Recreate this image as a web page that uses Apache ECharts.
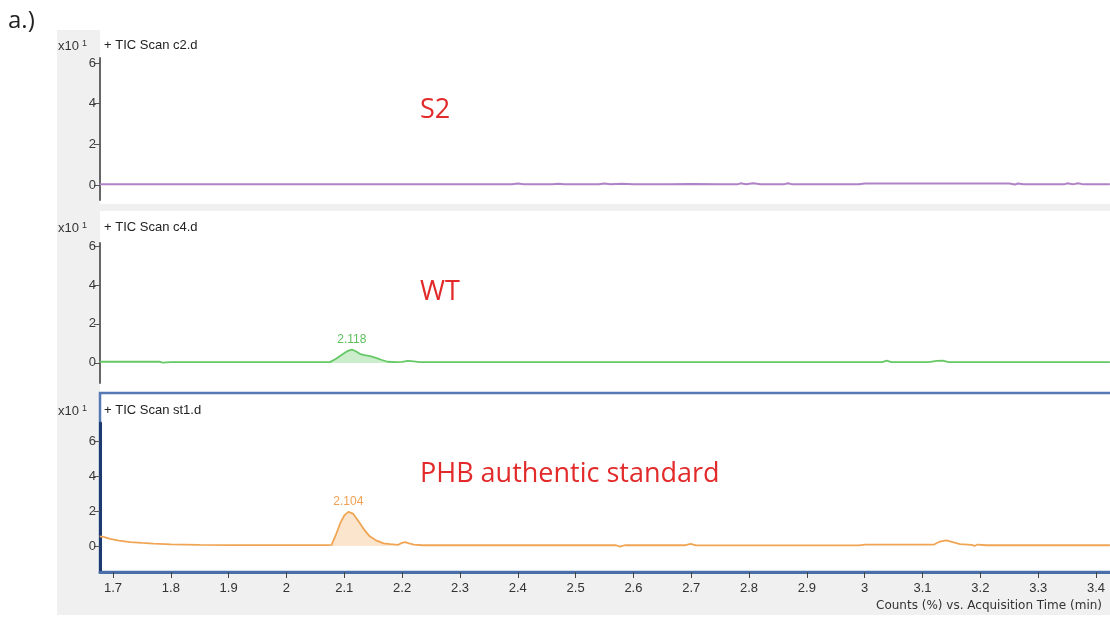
<!DOCTYPE html>
<html>
<head>
<meta charset="utf-8">
<script src="https://cdn.jsdelivr.net/npm/echarts@6/dist/echarts.min.js"></script>
<style>
html,body{margin:0;padding:0;background:#fff;}
#chart{width:1110px;height:617px;}
</style>
</head>
<body>
<div id="chart"></div>
<script>
// ---- data ----
const timeTicks = [1.7,1.8,1.9,2.0,2.1,2.2,2.3,2.4,2.5,2.6,2.7,2.8,2.9,3.0,3.1,3.2,3.3,3.4];
const countTicks = [0,2,4,6];
const sampleNames = ['S2','WT','PHB authentic standard'];
const scanNames = ['+ TIC Scan c2.d','+ TIC Scan c4.d','+ TIC Scan st1.d'];

// S2 trace: [time (min), counts x10^1]
const s2Trace = [
 [1.677,0.04],[1.75,0.04],[1.85,0.04],[1.95,0.04],[2.05,0.04],[2.15,0.04],[2.25,0.04],[2.35,0.04],
 [2.39,0.03],[2.40,0.07],[2.41,0.04],[2.46,0.04],[2.47,0.06],[2.48,0.04],[2.54,0.03],[2.55,0.07],
 [2.56,0.04],[2.58,0.06],[2.60,0.03],[2.66,0.04],[2.70,0.05],[2.75,0.04],[2.78,0.03],[2.785,0.08],
 [2.795,0.03],[2.807,0.08],[2.82,0.03],[2.86,0.03],[2.867,0.08],[2.875,0.03],[2.99,0.03],[3.00,0.07],
 [3.25,0.07],[3.26,0.02],[3.265,0.07],[3.275,0.03],[3.345,0.03],[3.35,0.08],[3.36,0.03],[3.369,0.08],
 [3.378,0.03],[3.424,0.03]
];

// WT trace
const wtTrace = [
 [1.677,0.06],[1.75,0.06],[1.78,0.07],[1.786,0.02],[1.80,0.04],[1.90,0.04],[2.00,0.04],[2.05,0.04],
 [2.075,0.04],[2.085,0.2],[2.095,0.4],[2.105,0.6],[2.113,0.68],[2.12,0.6],[2.128,0.45],[2.135,0.4],
 [2.145,0.35],[2.156,0.25],[2.165,0.15],[2.175,0.06],[2.19,0.04],[2.20,0.05],[2.21,0.1],[2.22,0.08],
 [2.23,0.04],[2.40,0.04],[2.60,0.04],[2.80,0.04],[3.03,0.04],[3.038,0.12],[3.046,0.04],[3.11,0.04],
 [3.125,0.1],[3.135,0.12],[3.145,0.04],[3.30,0.04],[3.424,0.04]
];
const wtPeak = {start:2.075, end:2.20, apex:[2.113,0.68], label:'2.118'};

// PHB authentic standard trace
const phbTrace = [
 [1.677,0.55],[1.685,0.5],[1.695,0.4],[1.71,0.3],[1.73,0.22],[1.75,0.17],[1.77,0.13],[1.80,0.09],
 [1.85,0.06],[1.90,0.05],[2.00,0.05],[2.07,0.05],[2.078,0.06],[2.085,0.6],[2.093,1.3],[2.10,1.75],
 [2.107,1.95],[2.115,1.85],[2.127,1.3],[2.135,0.9],[2.144,0.55],[2.156,0.3],[2.168,0.15],[2.18,0.1],
 [2.193,0.06],[2.20,0.18],[2.205,0.22],[2.212,0.15],[2.22,0.08],[2.235,0.04],[2.40,0.04],[2.57,0.04],
 [2.577,-0.04],[2.585,0.04],[2.69,0.04],[2.699,0.12],[2.708,0.03],[2.99,0.03],[3.00,0.08],[3.12,0.08],
 [3.13,0.25],[3.141,0.32],[3.152,0.22],[3.165,0.1],[3.185,0.06],[3.19,0.0],[3.195,0.08],[3.21,0.04],
 [3.30,0.04],[3.424,0.04]
];
const phbPeak = {start:2.078, end:2.193, apex:[2.107,1.95], label:'2.104'};

// ---- chart ----
const el = document.getElementById('chart');
const chart = echarts.init(el, null, {renderer:'canvas'});
const FONT = 'Liberation Sans';
const xMin = 1.6775, xMax = 3.4242;

function peakSlice(trace, p){ return trace.filter(d => d[0] >= p.start && d[0] <= p.end); }

function yAxisCfg(gi, min, max, color, width){
  return {
    type:'value', gridIndex:gi, min:min, max:max,
    axisLine:{show:true, onZero:false, lineStyle:{color:color, width:width}},
    axisTick:{show:true, customValues:countTicks, length:6, lineStyle:{color:'#555', width:1}},
    axisLabel:{show:true, customValues:countTicks, margin:4, color:'#3a3a3a', fontSize:13, fontFamily:FONT},
    splitLine:{show:false}
  };
}
function xAxisCfg(gi, visible){
  return {
    type:'value', gridIndex:gi, min:xMin, max:xMax, show:visible, position:'bottom',
    axisLine:{show:true, onZero:false, lineStyle:{color:'#4a6ea8', width:3}},
    axisTick:{show:true, customValues:timeTicks, length:6, lineStyle:{color:'#444', width:1}},
    axisLabel:{show:true, customValues:timeTicks, margin:10, color:'#333', fontSize:13, fontFamily:FONT,
      formatter: v => String(Math.round(v*10)/10)},
    splitLine:{show:false}
  };
}

function header(y, name){
  return [
    {type:'text', left:58, top:y, z:20, style:{text:'x10{s|1}', fill:'#333', font:'13px "Liberation Sans"',
       rich:{s:{fontSize:9, verticalAlign:'top', padding:[0,0,6,3], fill:'#333', fontFamily:FONT}}}},
    {type:'text', left:104, top:y, z:20, style:{text:name, fill:'#222', font:'13px "Liberation Sans"'}}
  ];
}
function sampleLabel(y, name){
  return {type:'text', left:420, top:y, z:20, style:{text:name, fill:'#e22a2a', font:'27px "Open Sans"'}};
}

const option = {
  animation:false,
  backgroundColor:'#ffffff',
  graphic:[
    {type:'rect', z:-5, shape:{x:57,y:30,width:1060,height:585}, style:{fill:'#f0f0f0'}},
    {type:'rect', z:-4, shape:{x:100,y:30,width:1015,height:174}, style:{fill:'#ffffff'}},
    {type:'rect', z:-4, shape:{x:100,y:211,width:1015,height:362}, style:{fill:'#ffffff'}},
    {type:'rect', z:-3, shape:{x:100,y:393,width:1020,height:179}, style:{fill:null, stroke:'#5679b3', lineWidth:2.5}},
    {type:'text', left:8, top:9, z:20, style:{text:'a.)', fill:'#222', font:'24px "Open Sans"'}},
    ...header(39, scanNames[0]),
    ...header(221, scanNames[1]),
    ...header(404, scanNames[2]),
    sampleLabel(97, sampleNames[0]),
    sampleLabel(279, sampleNames[1]),
    sampleLabel(461, sampleNames[2]),
    {type:'text', right:8, top:600, z:20, style:{text:'Counts (%) vs. Acquisition Time (min)', fill:'#333', font:'12px "DejaVu Sans"'}}
  ],
  grid:[
    {left:100, right:0, top:58, height:142},
    {left:100, right:0, top:243, height:140},
    {left:100, right:0, top:423, height:149}
  ],
  xAxis:[xAxisCfg(0,false), xAxisCfg(1,false), xAxisCfg(2,true)],
  yAxis:[
    yAxisCfg(0,-0.74,6.25,'#666',2),
    yAxisCfg(1,-1.03,6.15,'#666',2),
    yAxisCfg(2,-1.49,7.03,'#1d3a70',3)
  ],
  series:[
    {type:'line', xAxisIndex:0, yAxisIndex:0, data:s2Trace, symbol:'none', lineStyle:{color:'#b083c6', width:2}},
    {type:'line', xAxisIndex:1, yAxisIndex:1, data:peakSlice(wtTrace, wtPeak), symbol:'none',
      lineStyle:{width:0}, areaStyle:{color:'rgba(110,205,110,0.5)'}},
    {type:'line', xAxisIndex:1, yAxisIndex:1, data:wtTrace, symbol:'none', lineStyle:{color:'#66c866', width:1.8},
      markPoint:{symbolSize:0, data:[{coord:wtPeak.apex, label:{show:true, position:'top', distance:4, formatter:wtPeak.label, color:'#5cbf5c', fontSize:12, fontFamily:FONT}}]}},
    {type:'line', xAxisIndex:2, yAxisIndex:2, data:peakSlice(phbTrace, phbPeak), symbol:'none',
      lineStyle:{width:0}, areaStyle:{color:'rgba(245,180,110,0.5)'}},
    {type:'line', xAxisIndex:2, yAxisIndex:2, data:phbTrace, symbol:'none', lineStyle:{color:'#f0a555', width:1.8},
      markPoint:{symbolSize:0, data:[{coord:phbPeak.apex, label:{show:true, position:'top', distance:4, formatter:phbPeak.label, color:'#f0a050', fontSize:12, fontFamily:FONT}}]}}
  ]
};
chart.setOption(option);
</script>
</body>
</html>
